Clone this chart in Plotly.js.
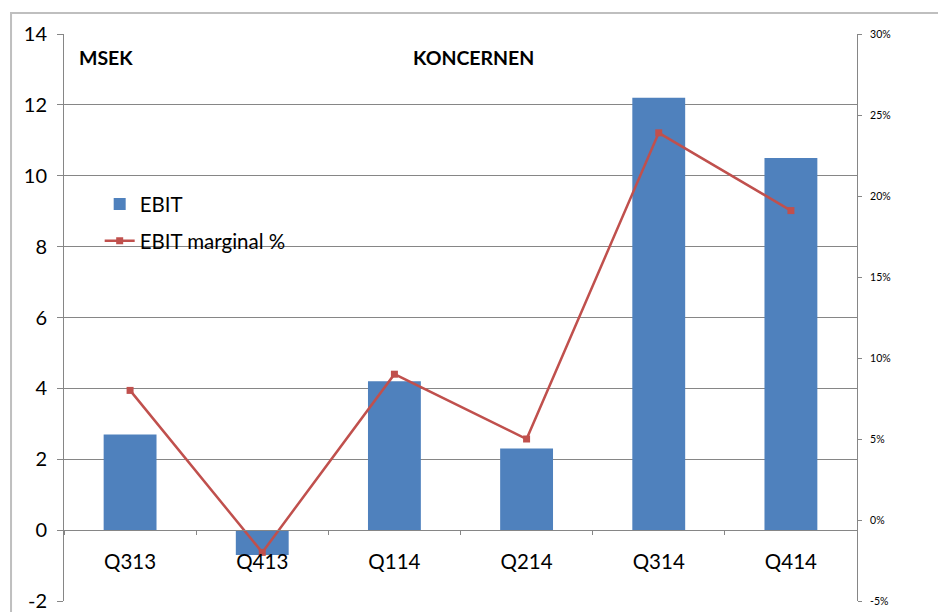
<!DOCTYPE html>
<html>
<head>
<meta charset="utf-8">
<script src="https://cdn.plot.ly/plotly-3.0.1.min.js"></script>
<style>
html,body{margin:0;padding:0;background:#fff;}
#chart{width:938px;height:612px;}
</style>
</head>
<body>
<div id="chart"></div>
<script>
const categories = ['Q313','Q413','Q114','Q214','Q314','Q414'];
const ebit = [2.7, -0.7, 4.2, 2.3, 12.2, 10.5];
const marginPct = [0.080, -0.020, 0.090, 0.050, 0.239, 0.191];
const leftTicks = [-2,0,2,4,6,8,10,12,14];
const rightTicks = [-0.05,0,0.05,0.10,0.15,0.20,0.25,0.30];

const FONT = 'Lato, "Open Sans", sans-serif';
const GRID = '#868686';

const traces = [
  {
    type: 'bar', name: 'EBIT', x: categories, y: ebit, legendgroup: 'a',
    marker: {color: '#4f81bd'}, width: 0.4, yaxis: 'y', xaxis: 'x'
  },
  {
    type: 'scatter', mode: 'lines+markers', name: 'EBIT marginal %', legendgroup: 'b',
    x: categories, y: marginPct, yaxis: 'y2', xaxis: 'x',
    line: {color: '#c0504d', width: 2.5},
    marker: {color: '#c0504d', symbol: 'square', size: 7}
  }
];

const layout = {
  width: 938, height: 612,
  margin: {l: 64, r: 81, t: 34, b: 11},
  paper_bgcolor: '#fff', plot_bgcolor: '#fff',
  font: {family: FONT, color: '#000'},
  showlegend: true,
  legend: {
    x: 0.045, y: 0.735, xanchor: 'left', yanchor: 'top',
    bgcolor: 'rgba(0,0,0,0)', font: {size: 20.5, family: FONT},
    traceorder: 'grouped', tracegroupgap: 7, itemwidth: 30
  },
  xaxis: {
    type: 'category', anchor: 'free', position: 0.125,
    showline: true, linecolor: GRID, linewidth: 1,
    showgrid: false, zeroline: false,
    ticks: 'outside', tickson: 'boundaries', ticklen: 4, tickcolor: GRID,
    tickfont: {size: 20.5, family: FONT}, ticklabelstandoff: 13,
    fixedrange: true
  },
  yaxis: {
    range: [-2, 14], tickvals: leftTicks, ticktext: leftTicks.map(String),
    showgrid: true, gridcolor: GRID, gridwidth: 1,
    zeroline: false, showline: true, linecolor: GRID, linewidth: 1,
    ticks: 'outside', ticklen: 6, tickcolor: GRID,
    tickfont: {size: 20, family: FONT}, ticklabelstandoff: 6
  },
  yaxis2: {
    overlaying: 'y', side: 'right', range: [-0.05, 0.30],
    tickvals: rightTicks, ticktext: rightTicks.map(v => Math.round(v*100) + '%'),
    showgrid: false, zeroline: false, showline: true, linecolor: GRID, linewidth: 1,
    ticks: 'outside', ticklen: 4, tickcolor: GRID,
    tickfont: {size: 10.5, family: FONT}, ticklabelstandoff: 6
  },
  annotations: [
    {text: '<b>MSEK</b>', xref: 'paper', yref: 'paper', x: 0.016, y: 0.959,
     xanchor: 'left', yanchor: 'middle', showarrow: false, font: {size: 19.5, family: FONT}},
    {text: '<b>KONCERNEN</b>', xref: 'paper', yref: 'paper', x: 0.516, y: 0.959,
     xanchor: 'center', yanchor: 'middle', showarrow: false, font: {size: 19.5, family: FONT}}
  ],
  shapes: [
    {type: 'rect', xref: 'paper', yref: 'paper', x0: -0.0668, x1: 1.3, y0: -0.2, y1: 1.037,
     line: {color: '#bfbfbf', width: 2}, layer: 'below'}
  ]
};

Plotly.newPlot('chart', traces, layout, {displayModeBar: false, staticPlot: true});
</script>
</body>
</html>
